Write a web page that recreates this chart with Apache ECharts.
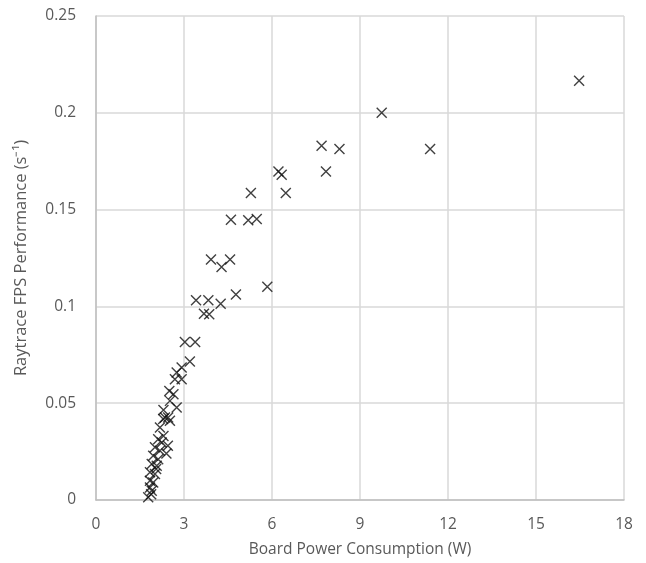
<!DOCTYPE html>
<html>
<head>
<meta charset="utf-8">
<script src="https://cdn.jsdelivr.net/npm/echarts@6/dist/echarts.min.js"></script>
<style>
  html, body { margin: 0; padding: 0; background: #fff; }
  #main { width: 646px; height: 563px; }
</style>
</head>
<body>
<div id="main"></div>
<script>
// board power (W) and raytrace fps
const power = [
  16.47, 9.74, 7.69, 8.30, 11.39, 6.22, 6.33, 7.84, 5.28, 6.47,
  4.60, 5.19, 5.48, 3.92, 4.28, 4.57, 5.84, 4.77, 3.41, 3.83,
  4.25, 3.68, 3.86, 3.03, 3.38, 3.20, 2.92, 2.75, 2.92, 2.69,
  2.50, 2.64, 2.52, 2.75, 2.30, 2.35, 2.52, 2.46, 2.29, 2.18,
  2.12, 2.24, 2.01, 2.18, 1.95, 2.12, 1.90, 2.07, 1.84, 2.01,
  1.84, 1.95, 1.84, 1.90, 1.78, 2.30, 2.40, 2.45, 1.88, 2.05
]
const fps = [
  0.2165, 0.2000, 0.1830, 0.1813, 0.1813, 0.1697, 0.1680, 0.1697, 0.1586, 0.1586,
  0.1448, 0.1445, 0.1452, 0.1242, 0.1203, 0.1242, 0.1102, 0.1062, 0.1032, 0.1032,
  0.1014, 0.0962, 0.0959, 0.0816, 0.0816, 0.0715, 0.0684, 0.0658, 0.0624, 0.0624,
  0.0563, 0.0546, 0.0512, 0.0478, 0.0465, 0.0426, 0.0409, 0.0426, 0.0418, 0.0375,
  0.0314, 0.0297, 0.0272, 0.0254, 0.0228, 0.0211, 0.0186, 0.0177, 0.0143, 0.0134,
  0.0100, 0.0091, 0.0065, 0.0048, 0.0014, 0.0330, 0.0240, 0.0280, 0.0030, 0.0160
]
const xTicks = { min: 0, max: 18, interval: 3 }
const yTicks = { min: 0, max: 0.25, interval: 0.05 }

const points = power.map((p, i) => [p, fps[i]])
const font = "'Open Sans', 'Liberation Sans', sans-serif"

const myChart = echarts.init(document.getElementById("main"))
myChart.setOption({
  animation: false,
  grid: { left: 96, right: 22, top: 16, bottom: 55 },
  xAxis: {
    type: "value",
    min: xTicks.min,
    max: xTicks.max,
    interval: xTicks.interval,
    name: "Board Power Consumption (W)",
    nameLocation: "middle",
    nameGap: 42,
    nameTextStyle: { color: "#595959", fontSize: 15.5, fontFamily: font },
    axisLine: { show: true, lineStyle: { color: "#bfbfbf", width: 1.5 } },
    axisTick: { show: false },
    axisLabel: { color: "#595959", fontSize: 15.5, fontFamily: font, margin: 17 },
    splitLine: { show: true, lineStyle: { color: "#d9d9d9", width: 1.5 } }
  },
  yAxis: {
    type: "value",
    min: yTicks.min,
    max: yTicks.max,
    interval: yTicks.interval,
    name: "Raytrace FPS Performance (s⁻¹)",
    nameLocation: "middle",
    nameGap: 66,
    nameTextStyle: { color: "#595959", fontSize: 16.5, fontFamily: font },
    axisLine: { show: true, lineStyle: { color: "#bfbfbf", width: 1.5 } },
    axisTick: { show: false },
    axisLabel: { color: "#595959", fontSize: 15.5, fontFamily: font, margin: 20 },
    splitLine: { show: true, lineStyle: { color: "#d9d9d9", width: 1.5 } }
  },
  series: [
    {
      type: "scatter",
      data: points,
      symbol: "path://M0,0L10,10M10,0L0,10",
      symbolSize: 10,
      itemStyle: { color: "transparent", borderColor: "#111", borderWidth: 1.4 }
    }
  ]
})
</script>
</body>
</html>
